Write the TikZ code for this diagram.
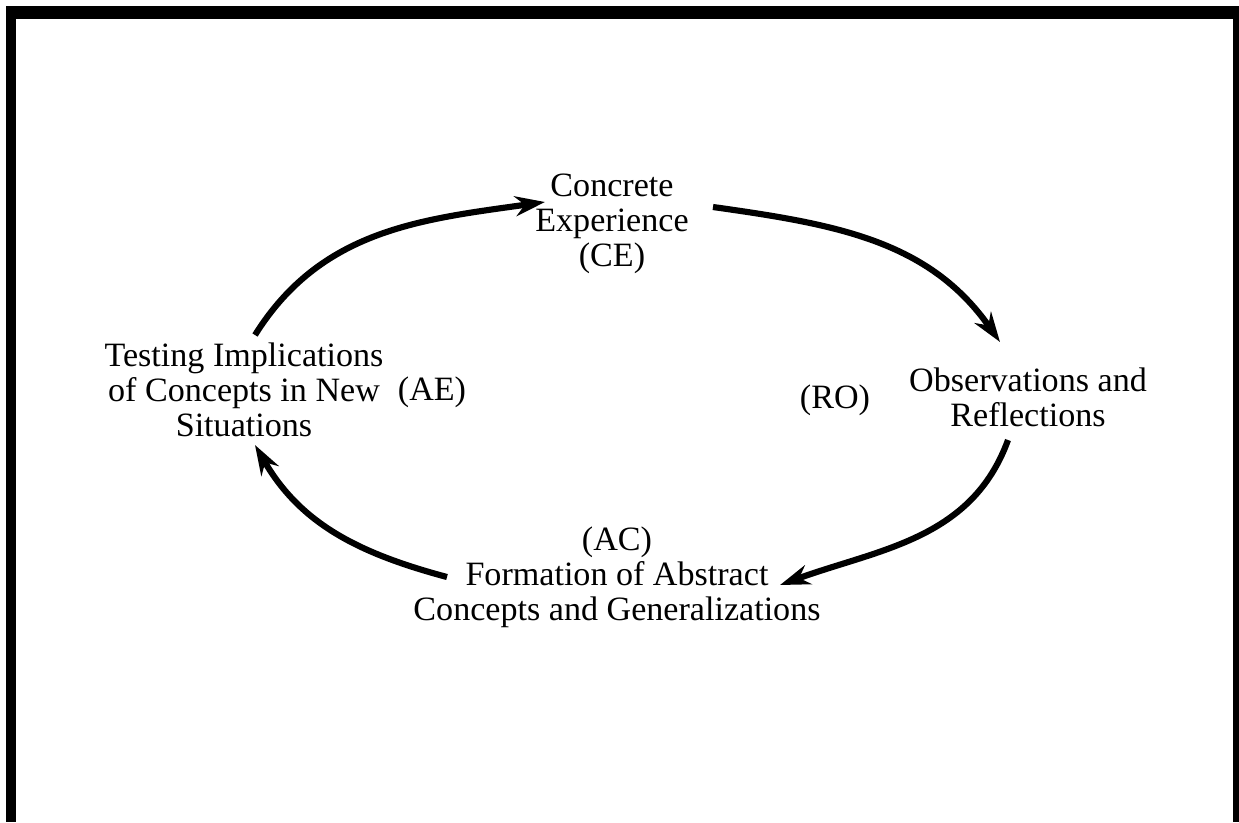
\documentclass[tikz,border=0pt]{standalone}
\usepackage{fontspec}
\setmainfont{Liberation Serif}
\usetikzlibrary{arrows.meta, positioning}
\tikzset{
>={Stealth[length=0.6cm,width=0.4cm]}, % big bold heads
every node/.style={inner sep=1pt, align=center},
stage/.style={font=\fontsize{19.4}{20}\selectfont},
cycle/.style={->, line width=3.5pt},
}

\begin{document}
\begin{tikzpicture}
  \useasboundingbox (0,0) rectangle (24.78,-16.44);
  % frame, open at the bottom
  \fill (0.12,-0.12) rectangle (24.78,-0.38);
  \fill (0.12,-0.12) rectangle (0.32,-16.44);
  \fill (24.66,-0.12) rectangle (24.78,-16.44);

  \node[stage] (ce) at (12.24,-4.48) {Concrete\\Experience\\(CE)};
  \node[stage] (ro) at (20.56,-7.94) {Observations and\\Reflections};
  \node[stage] (rotag) at (16.7,-8.0) {(RO)};
  \node[stage] (ac) at (12.34,-11.54) {(AC)\\Formation of Abstract\\Concepts and Generalizations};
  \node[stage] (ae) at (4.88,-7.8) {Testing Implications\\of Concepts in New\\Situations};
  \node[stage] (aetag) at (8.64,-7.84) {(AE)};

  \draw[cycle] ([shift={(0.22,1.1)}]ae.center) to[out=58,in=188] ([shift={(-1.34,0.44)}]ce.center);
  \draw[cycle] ([shift={(2.02,0.34)}]ce.center) to[out=-8,in=125] ([shift={(-0.56,1.1)}]ro.center);
  \draw[cycle] ([shift={(-0.4,-0.86)}]ro.center) to[out=-110,in=20] ([shift={(3.26,-0.16)}]ac.center);
  \draw[cycle] ([shift={(-3.4,0)}]ac.center) to[out=165,in=-60] ([shift={(0.22,-1.1)}]ae.center);
\end{tikzpicture}
\end{document}
